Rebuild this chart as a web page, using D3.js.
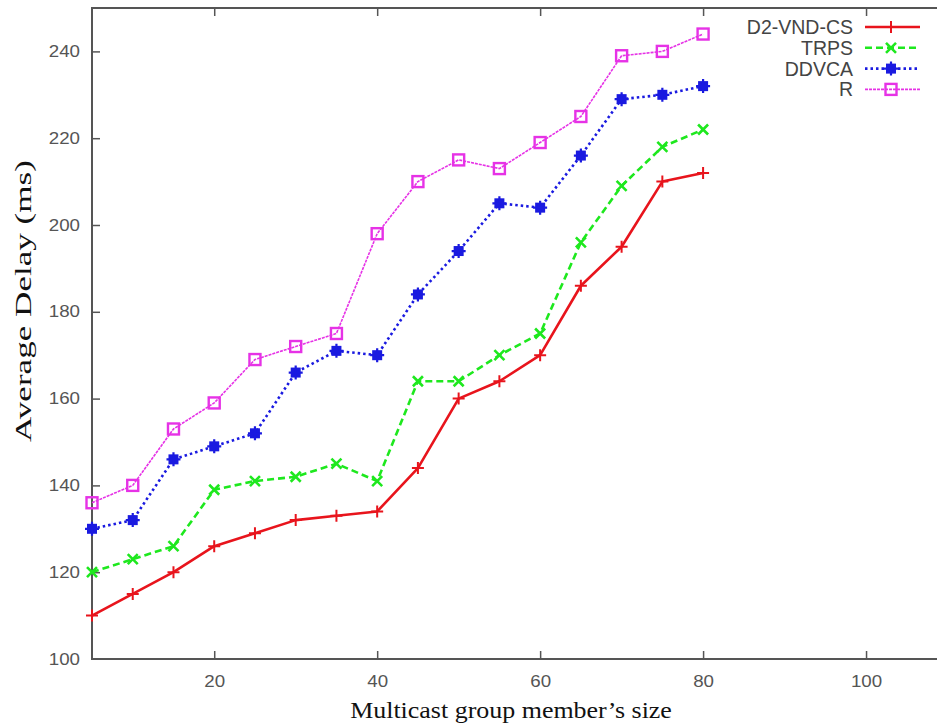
<!DOCTYPE html>
<html>
<head>
<meta charset="utf-8">
<script src="https://cdn.jsdelivr.net/npm/d3@7"></script>
<style>
  body { margin: 0; background: #fff; }
  svg { display: block; }
</style>
</head>
<body>
<div id="graphic"></div>
<script>
// group sizes on the x axis
var sizes = [5, 10, 15, 20, 25, 30, 35, 40, 45, 50, 55, 60, 65, 70, 75, 80];

// average delay (ms)
var d2vndcs = [110, 115, 120, 126, 129, 132, 133, 134, 144, 160, 164, 170, 186, 195, 210, 212];
var trps    = [120, 123, 126, 139, 141, 142, 145, 141, 164, 164, 170, 175, 196, 209, 218, 222];
var ddvca   = [130, 132, 146, 149, 152, 166, 171, 170, 184, 194, 205, 204, 216, 229, 230, 232];
var rSeries = [136, 140, 153, 159, 169, 172, 175, 198, 210, 215, 213, 219, 225, 239, 240, 244];

var xTicks = [20, 40, 60, 80, 100];
var yTicks = [100, 120, 140, 160, 180, 200, 220, 240];

var seriesNames = ['D2-VND-CS', 'TRPS', 'DDVCA', 'R'];

(function () {
  var width = 937, height = 726;
  var left = 92, top = 8, bottom = 659, right = 1029;

  var svg = d3.select('#graphic').append('svg')
    .attr('width', width)
    .attr('height', height);

  var x = d3.scaleLinear().domain([5, 120]).range([left, right]);
  var y = d3.scaleLinear().domain([100, 250]).range([bottom, top]);

  var frameColor = '#555';
  var sansFont = '"Liberation Sans", Arial, sans-serif';
  var serifFont = '"Liberation Serif", "Times New Roman", serif';

  // axes, ticks point inward like gnuplot
  var gx = svg.append('g')
    .attr('transform', 'translate(0,' + bottom + ')')
    .call(d3.axisBottom(x).tickValues(xTicks).tickSizeInner(-8).tickSizeOuter(0).tickPadding(17));
  var gxTop = svg.append('g')
    .attr('transform', 'translate(0,' + top + ')')
    .call(d3.axisTop(x).tickValues(xTicks).tickSizeInner(-8).tickSizeOuter(0).tickFormat(''));
  var gy = svg.append('g')
    .attr('transform', 'translate(' + left + ',0)')
    .call(d3.axisLeft(y).tickValues(yTicks).tickSizeInner(-8).tickSizeOuter(0).tickPadding(12));

  [gx, gxTop, gy].forEach(g => {
    g.select('.domain').remove();
    g.selectAll('.tick line').attr('stroke', frameColor).attr('stroke-width', 1.5);
    g.selectAll('.tick text')
      .attr('fill', '#555')
      .style('font-family', sansFont)
      .style('font-size', '16px')
      .each(function () {
        // the tick digits in the picture are a little wider than the font
        var w = this.getComputedTextLength();
        d3.select(this).attr('textLength', w * 1.17).attr('lengthAdjust', 'spacingAndGlyphs');
      });
  });
  gy.selectAll('.tick line').filter(d => d == 100).remove();

  // frame
  svg.append('path')
    .attr('d', 'M' + right + ',' + top + 'H' + left + 'V' + bottom + 'H' + right)
    .attr('fill', 'none')
    .attr('stroke', frameColor)
    .attr('stroke-width', 2);

  var styles = [
    { name: seriesNames[0], values: d2vndcs, color: '#e8141c', width: 2.6, dash: null, marker: 'plus' },
    { name: seriesNames[1], values: trps, color: '#1ee81e', width: 2.6, dash: '7,4', marker: 'cross' },
    { name: seriesNames[2], values: ddvca, color: '#1a1ae0', width: 2.6, dash: '2.5,3', marker: 'star' },
    { name: seriesNames[3], values: rSeries, color: '#e632e6', width: 1.6, dash: '3,1', marker: 'square' }
  ];

  var line = d3.line()
    .x((d, i) => x(sizes[i]))
    .y(d => y(d));

  function drawMarker(g, type, color) {
    if (type == 'plus') {
      g.append('path').attr('d', 'M-6,0H6M0,-6V6')
        .attr('stroke', color).attr('stroke-width', 2).attr('fill', 'none');
    } else if (type == 'cross') {
      g.append('path').attr('d', 'M-5,-5L5,5M-5,5L5,-5')
        .attr('stroke', color).attr('stroke-width', 2.6).attr('fill', 'none');
    } else if (type == 'star') {
      g.append('rect').attr('x', -5).attr('y', -5).attr('width', 10).attr('height', 10).attr('fill', color);
      g.append('path').attr('d', 'M-7,0H7M0,-7V7')
        .attr('stroke', color).attr('stroke-width', 2.2).attr('fill', 'none');
    } else {
      g.append('rect').attr('x', -5.5).attr('y', -5.5).attr('width', 11).attr('height', 11)
        .attr('fill', 'none').attr('stroke', color).attr('stroke-width', 2.4);
    }
  }

  styles.forEach(s => {
    svg.append('path')
      .datum(s.values)
      .attr('d', line)
      .attr('fill', 'none')
      .attr('stroke', s.color)
      .attr('stroke-width', s.width)
      .attr('stroke-dasharray', s.dash)
      .attr('stroke-linejoin', 'round');

    svg.append('g').selectAll('g')
      .data(s.values)
      .enter().append('g')
      .attr('transform', (d, i) => 'translate(' + x(sizes[i]) + ',' + y(d) + ')')
      .each(function () { drawMarker(d3.select(this), s.marker, s.color) });
  });

  // legend
  var legend = svg.append('g');
  styles.forEach((s, i) => {
    var ly = 27 + i * 20.8;
    legend.append('text')
      .attr('x', 853).attr('y', ly)
      .attr('dy', '0.36em')
      .attr('text-anchor', 'end')
      .attr('fill', '#444')
      .style('font-family', sansFont)
      .style('font-size', '19.5px')
      .text(s.name);
    legend.append('line')
      .attr('x1', 865).attr('x2', 920).attr('y1', ly).attr('y2', ly)
      .attr('stroke', s.color)
      .attr('stroke-width', s.width)
      .attr('stroke-dasharray', s.dash);
    drawMarker(legend.append('g').attr('transform', 'translate(891,' + ly + ')'), s.marker, s.color);
  });

  // axis titles, stretched along the baseline like the picture
  var xTitle = svg.append('text')
    .attr('text-anchor', 'middle')
    .style('font-family', serifFont)
    .style('font-size', '23px')
    .attr('fill', '#111')
    .text('Multicast group member\u2019s size');
  var xw = xTitle.node().getComputedTextLength();
  xTitle.attr('transform', 'translate(511,718) scale(' + (322 / xw) + ',1)');

  var yTitle = svg.append('text')
    .attr('text-anchor', 'middle')
    .style('font-family', serifFont)
    .style('font-size', '24px')
    .attr('fill', '#111')
    .text('Average Delay (ms)');
  var yw = yTitle.node().getComputedTextLength();
  yTitle.attr('transform', 'translate(31,301) rotate(-90) scale(' + (282 / yw) + ',1)');
})()
</script>
</body>
</html>
